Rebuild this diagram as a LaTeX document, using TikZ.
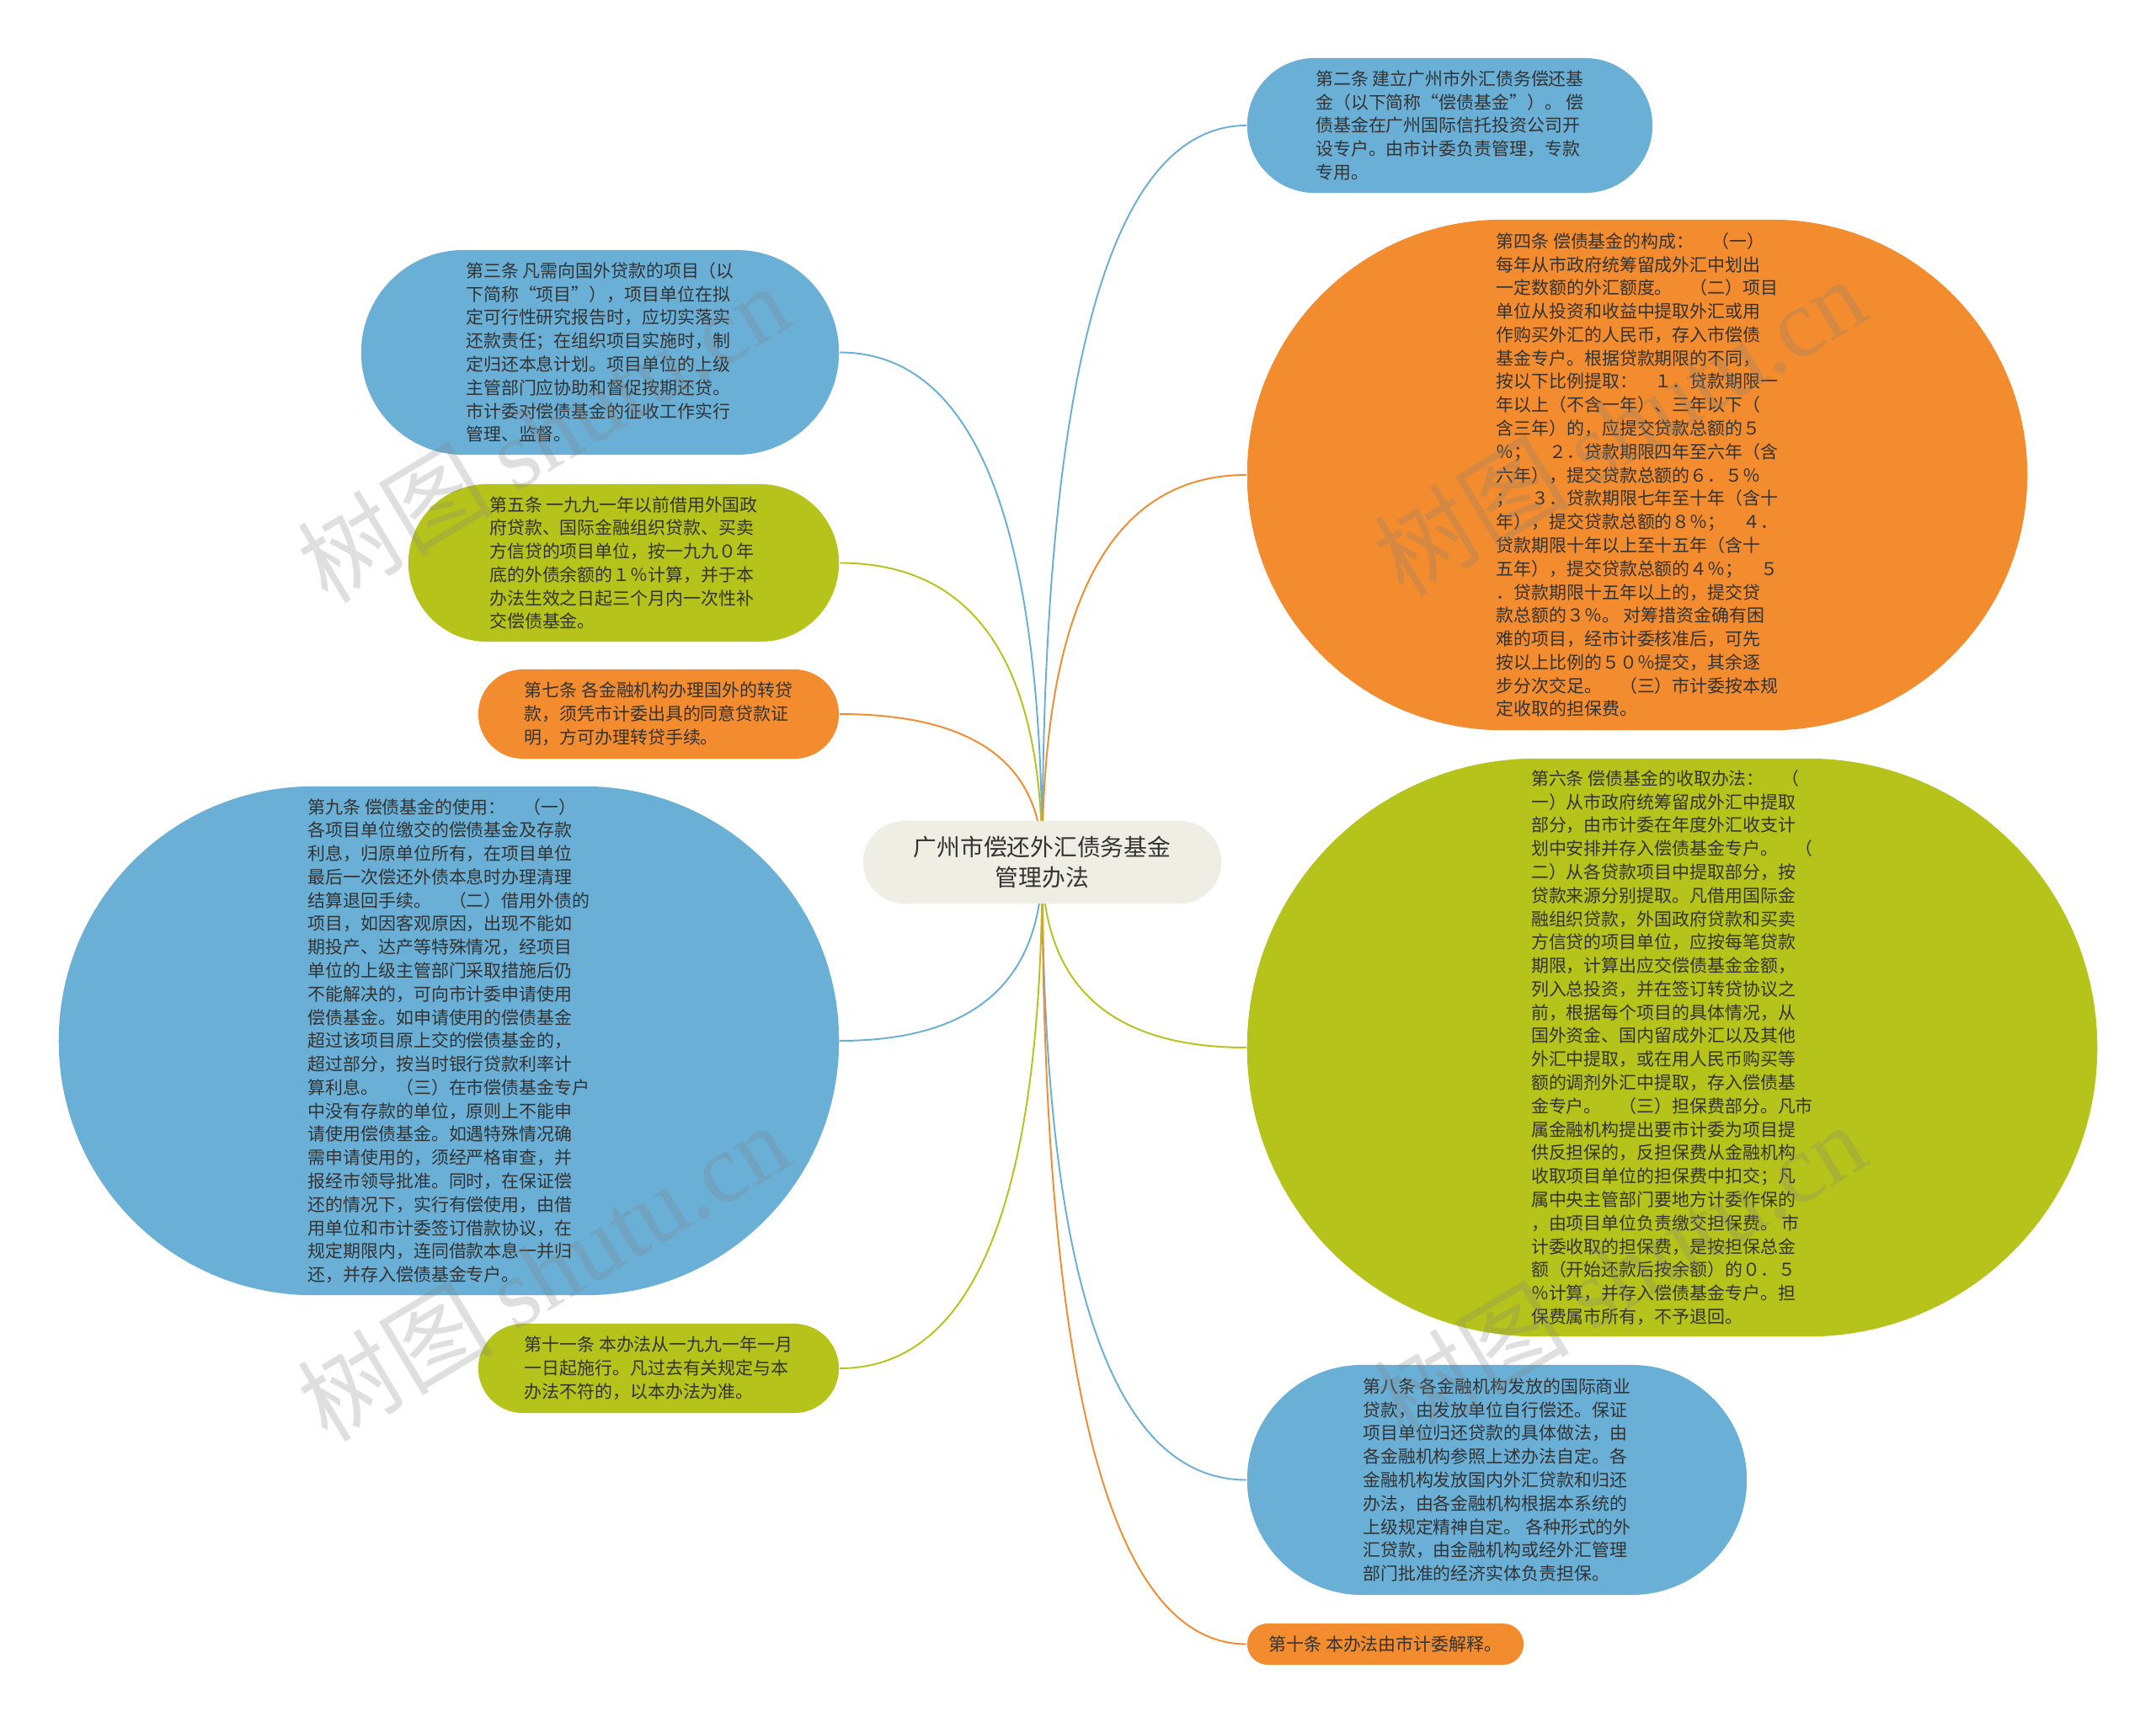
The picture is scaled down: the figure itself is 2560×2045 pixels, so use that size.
\documentclass[tikz,border=0pt]{standalone}
\usepackage{fontspec}
\newfontfamily\cjk{Noto Sans CJK SC}
\newfontfamily\wmserif{Liberation Serif}
\usetikzlibrary{calc}
\pgfdeclarelayer{background}
\pgfdeclarelayer{canvas}
\pgfsetlayers{canvas,background,main}
\definecolor{cblue}{HTML}{6AAFD5}
\definecolor{corange}{HTML}{F28C2E}
\definecolor{cgreen}{HTML}{B6C31A}
\definecolor{croot}{HTML}{EEEEE5}
\definecolor{ctext}{HTML}{333333}
\tikzset{
  leaf/.style={rectangle, inner sep=0pt, align=left, text=ctext,
    font=\cjk\fontsize{5.95pt}{7.9pt}\selectfont},
  rootbox/.style={rectangle, inner sep=0pt, align=center, text=ctext, fill=croot,
    font=\cjk\fontsize{7.9pt}{10.2pt}\selectfont},
  branchline/.style={line width=0.55pt,
    to path={.. controls ($(\tikztostart)!2/3!(\tikztostart|-\tikztotarget)$) and ($(\tikztotarget)!2/3!(\tikztostart|-\tikztotarget)$) .. (\tikztotarget)}},
  wm/.style={text=gray, opacity=0.25, font=\fontsize{33pt}{33pt}\selectfont, rotate=31}
}
\begin{document}
\begin{tikzpicture}[x=0.01cm, y=-0.01cm]
\begin{pgfonlayer}{canvas}
\fill[white] (0,0) rectangle (2560,2045);
\end{pgfonlayer}
\useasboundingbox (0,0) rectangle (2560,2045);

\node[rootbox, minimum width=4.25cm, minimum height=0.98cm, rounded corners=0.49cm] (root) at (1237.5,1024)
  {广州市偿还外汇债务基金\\管理办法};

\node[leaf, fill=cblue, minimum width=4.81cm, minimum height=1.60cm, rounded corners=0.80cm] (n2) at (1721.5,149)
  {第二条 建立广州市外汇债务偿还基\\金（以下简称“偿债基金”）。 偿\\债基金在广州国际信托投资公司开\\设专户。由市计委负责管理，专款\\专用。};

\node[leaf, fill=corange, minimum width=9.26cm, minimum height=6.06cm, rounded corners=3.03cm] (n4) at (1944,564)
  {第四条 偿债基金的构成：　（一）\\每年从市政府统筹留成外汇中划出\\一定数额的外汇额度。　（二）项目\\单位从投资和收益中提取外汇或用\\作购买外汇的人民币，存入市偿债\\基金专户。根据贷款期限的不同，\\按以下比例提取：　１．贷款期限一\\年以上（不含一年）、三年以下（\\含三年）的，应提交贷款总额的５\\％；　２．贷款期限四年至六年（含\\六年），提交贷款总额的６．５％\\；　３．贷款期限七年至十年（含十\\年），提交贷款总额的８％；　４．\\贷款期限十年以上至十五年（含十\\五年），提交贷款总额的４％；　５\\．贷款期限十五年以上的，提交贷\\款总额的３％。 对筹措资金确有困\\难的项目，经市计委核准后，可先\\按以上比例的５０％提交，其余逐\\步分次交足。　（三）市计委按本规\\定收取的担保费。};

\node[leaf, fill=cgreen, minimum width=10.09cm, minimum height=6.86cm, rounded corners=3.43cm] (n6) at (1985.5,1244)
  {第六条 偿债基金的收取办法：　（\\一）从市政府统筹留成外汇中提取\\部分，由市计委在年度外汇收支计\\划中安排并存入偿债基金专户。　（\\二）从各贷款项目中提取部分，按\\贷款来源分别提取。凡借用国际金\\融组织贷款，外国政府贷款和买卖\\方信贷的项目单位，应按每笔贷款\\期限，计算出应交偿债基金金额，\\列入总投资，并在签订转贷协议之\\前，根据每个项目的具体情况，从\\国外资金、国内留成外汇以及其他\\外汇中提取，或在用人民币购买等\\额的调剂外汇中提取，存入偿债基\\金专户。　（三）担保费部分。凡市\\属金融机构提出要市计委为项目提\\供反担保的，反担保费从金融机构\\收取项目单位的担保费中扣交；凡\\属中央主管部门要地方计委作保的\\，由项目单位负责缴交担保费。 市\\计委收取的担保费，是按担保总金\\额（开始还款后按余额）的０．５\\％计算，并存入偿债基金专户。担\\保费属市所有，不予退回。};

\node[leaf, fill=cblue, minimum width=5.93cm, minimum height=2.73cm, rounded corners=1.365cm] (n8) at (1777.5,1757.5)
  {第八条 各金融机构发放的国际商业\\贷款，由发放单位自行偿还。保证\\项目单位归还贷款的具体做法，由\\各金融机构参照上述办法自定。各\\金融机构发放国内外汇贷款和归还\\办法，由各金融机构根据本系统的\\上级规定精神自定。 各种形式的外\\汇贷款，由金融机构或经外汇管理\\部门批准的经济实体负责担保。};

\node[leaf, fill=corange, minimum width=3.28cm, minimum height=0.49cm, rounded corners=0.245cm] (n10) at (1645,1952.5)
  {第十条 本办法由市计委解释。};

\node[leaf, fill=cblue, minimum width=5.67cm, minimum height=2.43cm, rounded corners=1.215cm] (n3) at (712.5,418.5)
  {第三条 凡需向国外贷款的项目（以\\下简称“项目”），项目单位在拟\\定可行性研究报告时，应切实落实\\还款责任；在组织项目实施时，制\\定归还本息计划。项目单位的上级\\主管部门应协助和督促按期还贷。\\市计委对偿债基金的征收工作实行\\管理、监督。};

\node[leaf, fill=cgreen, minimum width=5.11cm, minimum height=1.87cm, rounded corners=0.935cm] (n5) at (740.5,668.5)
  {第五条 一九九一年以前借用外国政\\府贷款、国际金融组织贷款、买卖\\方信贷的项目单位，按一九九０年\\底的外债余额的１％计算，并于本\\办法生效之日起三个月内一次性补\\交偿债基金。};

\node[leaf, fill=corange, minimum width=4.28cm, minimum height=1.06cm, rounded corners=0.53cm] (n7) at (782,848)
  {第七条 各金融机构办理国外的转贷\\款，须凭市计委出具的同意贷款证\\明，方可办理转贷手续。};

\node[leaf, fill=cblue, minimum width=9.26cm, minimum height=6.04cm, rounded corners=3.02cm] (n9) at (533,1236)
  {第九条 偿债基金的使用：　（一）\\各项目单位缴交的偿债基金及存款\\利息，归原单位所有，在项目单位\\最后一次偿还外债本息时办理清理\\结算退回手续。　（二）借用外债的\\项目，如因客观原因，出现不能如\\期投产、达产等特殊情况，经项目\\单位的上级主管部门采取措施后仍\\不能解决的，可向市计委申请使用\\偿债基金。如申请使用的偿债基金\\超过该项目原上交的偿债基金的，\\超过部分，按当时银行贷款利率计\\算利息。　（三）在市偿债基金专户\\中没有存款的单位，原则上不能申\\请使用偿债基金。如遇特殊情况确\\需申请使用的，须经严格审查，并\\报经市领导批准。同时，在保证偿\\还的情况下，实行有偿使用，由借\\用单位和市计委签订借款协议，在\\规定期限内，连同借款本息一并归\\还，并存入偿债基金专户。};

\node[leaf, fill=cgreen, minimum width=4.28cm, minimum height=1.06cm, rounded corners=0.53cm] (n11) at (782,1625)
  {第十一条 本办法从一九九一年一月\\一日起施行。凡过去有关规定与本\\办法不符的，以本办法为准。};

\begin{pgfonlayer}{background}
\draw[branchline, cblue] (root.center) to (n2.west);
\draw[branchline, corange] (root.center) to (n4.west);
\draw[branchline, cgreen] (root.center) to (n6.west);
\draw[branchline, cblue] (root.center) to (n8.west);
\draw[branchline, corange] (root.center) to (n10.west);
\draw[branchline, cblue] (root.center) to (n3.east);
\draw[branchline, cgreen] (root.center) to (n5.east);
\draw[branchline, corange] (root.center) to (n7.east);
\draw[branchline, cblue] (root.center) to (n9.east);
\draw[branchline, cgreen] (root.center) to (n11.east);
\end{pgfonlayer}

\node[wm] (wm1) at (645,514) {\cjk 树图 \wmserif shutu.cn};
\node[wm] (wm2) at (1923,506) {\cjk 树图 \wmserif shutu.cn};
\node[wm] (wm3) at (645,1510) {\cjk 树图 \wmserif shutu.cn};
\node[wm] (wm4) at (1923,1510) {\cjk 树图 \wmserif shutu.cn};
\end{tikzpicture}
\end{document}
